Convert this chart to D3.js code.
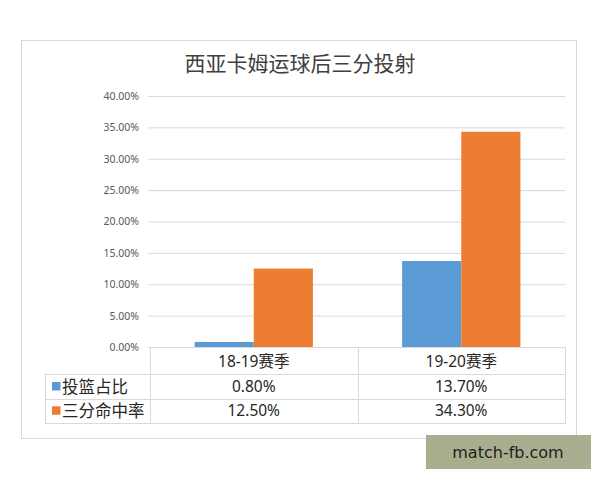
<!DOCTYPE html>
<html>
<head>
<meta charset="utf-8">
<script src="https://cdn.jsdelivr.net/npm/d3@7"></script>
<style>
  body { margin: 0; background: #fff; }
  svg { display: block; }
</style>
</head>
<body>
<div id="chart"></div>
<script>
// chart data
var title = "西亚卡姆运球后三分投射";
var seasons = ["18-19赛季", "19-20赛季"];
var seriesNames = ["投篮占比", "三分命中率"];
var shotShare = [0.008, 0.137];
var threePct = [0.125, 0.343];
var yTicks = [0, 0.05, 0.10, 0.15, 0.20, 0.25, 0.30, 0.35, 0.40];
var watermark = "match-fb.com";

var seriesValues = [shotShare, threePct];
var colors = ["#5b9bd5", "#ed7d31"];

var width = 600, height = 480;
var cjk = "'Noto Sans CJK SC', 'Noto Sans', sans-serif";
var lat = "'Noto Sans', 'Noto Sans CJK SC', sans-serif";

var svg = d3.select("#chart").append("svg")
  .attr("width", width)
  .attr("height", height);

// outer chart frame
svg.append("rect")
  .attr("x", 21.5).attr("y", 40.5)
  .attr("width", 555).attr("height", 398)
  .attr("fill", "#fff")
  .attr("stroke", "#d9d9d9");

//title
svg.append("text")
  .attr("x", 300).attr("y", 71)
  .attr("text-anchor", "middle")
  .style("font-family", cjk)
  .style("font-size", "21px")
  .style("fill", "#404040")
  .text(title);

// scales
var plotLeft = 150, plotRight = 565;
var y = d3.scaleLinear().domain([0, 0.4]).range([347, 96]);
var x = d3.scaleBand().domain(seasons).range([plotLeft, plotRight]).padding(0);
var groupFrac = 0.57;
var xs = d3.scaleBand().domain(seriesNames)
  .range([x.bandwidth() * (1 - groupFrac) / 2, x.bandwidth() * (1 + groupFrac) / 2]);

// gridlines + y labels
var yAxis = d3.axisLeft(y)
  .tickValues(yTicks)
  .tickFormat(d3.format(".2%"))
  .tickSizeInner(-(plotRight - 148))
  .tickSizeOuter(0)
  .tickPadding(9);

var gy = svg.append("g")
  .attr("transform", "translate(148,0)")
  .call(yAxis);
gy.select(".domain").remove();
gy.selectAll(".tick line").attr("stroke", "#d9d9d9").attr("stroke-width", 1);
gy.selectAll(".tick text")
  .style("font-family", lat)
  .style("font-size", "10.5px")
  .style("fill", "#595959");

// bars
var groups = svg.selectAll(".grp")
  .data(seasons)
  .enter().append("g")
  .attr("class", "grp")
  .attr("transform", function(d) { return "translate(" + x(d) + ",0)"; });

groups.selectAll("rect")
  .data(function(d, i) {
    return seriesNames.map(function(s, j) { return {s: s, v: seriesValues[j][i], c: colors[j]}; });
  })
  .enter().append("rect")
  .attr("x", function(d) { return xs(d.s); })
  .attr("width", xs.bandwidth())
  .attr("y", function(d) { return y(d.v); })
  .attr("height", function(d) { return y(0) - y(d.v); })
  .attr("fill", function(d) { return d.c; });

// data table under the plot
var rowTop = 347, rowH = [27, 25, 23.5];
var rowY = [rowTop, rowTop + rowH[0], rowTop + rowH[0] + rowH[1], rowTop + rowH[0] + rowH[1] + rowH[2]];
var tableLeft = 45;
var grid = svg.append("g").attr("stroke", "#d9d9d9").attr("stroke-width", 1);

// horizontal lines
grid.append("line").attr("x1", plotLeft).attr("x2", plotRight).attr("y1", rowY[0] + 0.5).attr("y2", rowY[0] + 0.5);
[1, 2, 3].forEach(function(r) {
  grid.append("line").attr("x1", tableLeft).attr("x2", plotRight)
    .attr("y1", Math.round(rowY[r]) + 0.5).attr("y2", Math.round(rowY[r]) + 0.5);
});
// vertical lines
grid.append("line").attr("x1", tableLeft + 0.5).attr("x2", tableLeft + 0.5)
  .attr("y1", Math.round(rowY[1])).attr("y2", Math.round(rowY[3]) + 1);
seasons.concat([null]).forEach(function(s) {
  var xx = s === null ? plotRight : x(s);
  grid.append("line").attr("x1", Math.round(xx) + 0.5).attr("x2", Math.round(xx) + 0.5)
    .attr("y1", rowY[0]).attr("y2", Math.round(rowY[3]) + 1);
});

// category header
svg.selectAll(".cat")
  .data(seasons)
  .enter().append("text")
  .attr("class", "cat")
  .attr("x", function(d) { return x(d) + x.bandwidth() / 2; })
  .attr("y", (rowY[0] + rowY[1]) / 2 + 6)
  .attr("text-anchor", "middle")
  .style("font-family", lat)
  .style("font-size", "15.5px")
  .style("fill", "#262626")
  .text(function(d) { return d; });

// series rows
seriesNames.forEach(function(name, j) {
  var cy = (rowY[j + 1] + rowY[j + 2]) / 2;
  svg.append("rect")
    .attr("x", 52).attr("y", cy - 4.5)
    .attr("width", 8.5).attr("height", 8.5)
    .attr("fill", colors[j]);
  svg.append("text")
    .attr("x", 62).attr("y", cy + 6)
    .style("font-family", cjk)
    .style("font-size", "16.5px")
    .style("fill", "#262626")
    .text(name);
  svg.selectAll(".val" + j)
    .data(seriesValues[j])
    .enter().append("text")
    .attr("x", function(d, i) { return x(seasons[i]) + x.bandwidth() / 2; })
    .attr("y", cy + 5.5)
    .attr("text-anchor", "middle")
    .style("font-family", lat)
    .style("font-size", "15.5px")
    .style("fill", "#262626")
    .text(function(d) { return d3.format(".2%")(d); });
});

// watermark badge
svg.append("rect")
  .attr("x", 426).attr("y", 435)
  .attr("width", 165).attr("height", 34)
  .attr("fill", "#a9ae8e");
svg.append("text")
  .attr("x", 508).attr("y", 458)
  .attr("text-anchor", "middle")
  .style("font-family", "'DejaVu Sans', sans-serif")
  .style("font-size", "16px")
  .style("fill", "#1e1e1e")
  .text(watermark);
</script>
</body>
</html>
